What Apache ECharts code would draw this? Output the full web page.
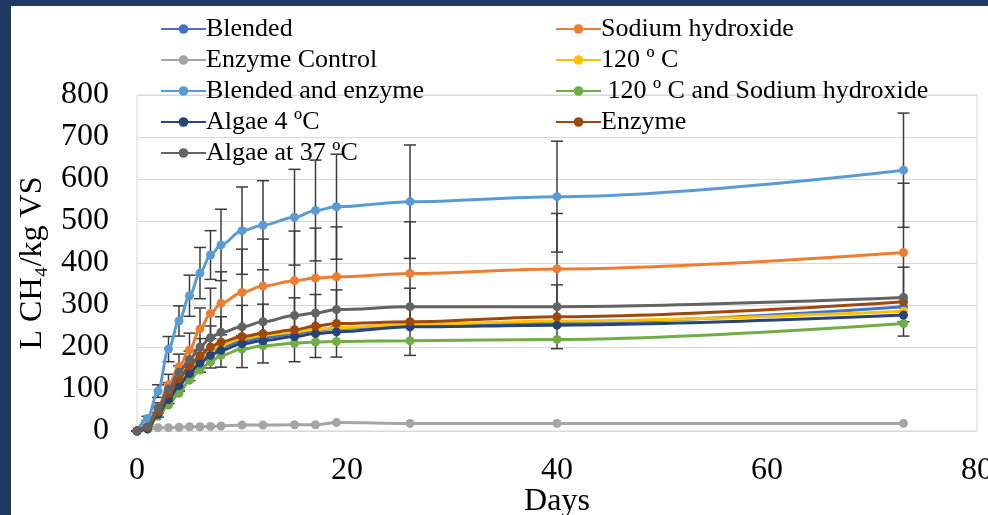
<!DOCTYPE html>
<html>
<head>
<meta charset="utf-8">
<script src="https://cdn.jsdelivr.net/npm/echarts@6/dist/echarts.min.js"></script>
<style>
  html, body { margin:0; padding:0; width:988px; height:515px; background:#203864; overflow:hidden; }
  #chart { position:absolute; left:11px; top:6px; width:977px; height:509px; background:#ffffff; }
</style>
</head>
<body>
<div id="chart"></div>
<script>
const days = [0,1,2,3,4,5,6,7,8,10,12,15,17,19,26,40,73];

const blended            = [0,8,45,85,118,148,170,188,200,215,222,232,240,244,252,258,296];
const sodiumHydroxide    = [0,12,55,110,153,193,243,280,304,330,345,358,364,367,375,386,425];
const enzymeControl      = [0,5,8,8,9,10,10,11,12,14,14,15,15,20,18,18,18];
const c120               = [0,6,38,80,115,145,172,192,205,220,228,236,242,246,254,262,285];
const blendedEnzyme      = [0,30,95,195,262,322,376,419,443,477,490,509,525,534,546,558,621];
const c120NaOH           = [0,5,35,62,90,121,145,165,180,195,203,209,212,213,215,218,256];
const algae4             = [0,5,40,75,108,137,162,180,192,208,215,225,232,236,248,252,276];
const enzyme             = [0,8,45,90,125,155,180,200,212,225,232,241,250,256,260,272,308];
const algae37            = [0,10,55,100,140,170,200,222,235,248,260,275,281,289,296,296,318];

const errBlendedEnzyme   = [0,5,15,30,36,49,61,58,85,104,106,114,120,125,135,132,136];
const errSodiumHydroxide = [0,4,12,25,30,40,50,60,75,103,112,118,119,119,123,132,165];
const errEnzyme          = [0,3,12,25,30,35,40,50,60,74,70,76,75,80,80,76,82];

const names = ['Blended','Sodium hydroxide','Enzyme Control','120 º C','Blended and enzyme',' 120 º C and Sodium hydroxide','Algae 4 ºC','Enzyme','Algae at 37 ºC'];
const values = [blended, sodiumHydroxide, enzymeControl, c120, blendedEnzyme, c120NaOH, algae4, enzyme, algae37];
const colors = ['#4472C4','#ED7D31','#A5A5A5','#FFC000','#5B9BD5','#70AD47','#264478','#9E480E','#636363'];

const serif = '"Liberation Serif", "DejaVu Serif", serif';

function errData(vals, errs) {
  return days.map((d, i) => [d, vals[i] - errs[i], vals[i] + errs[i]]);
}
function renderErr(params, api) {
  const x = api.value(0), lo = api.value(1), hi = api.value(2);
  const pH = api.coord([x, hi]), pL = api.coord([x, lo]);
  const w = 6;
  const st = { stroke: '#3c3c3c', lineWidth: 1.5 };
  return { type: 'group', children: [
    { type: 'line', shape: { x1: pH[0], y1: pH[1], x2: pL[0], y2: pL[1] }, style: st },
    { type: 'line', shape: { x1: pH[0] - w, y1: pH[1], x2: pH[0] + w, y2: pH[1] }, style: st },
    { type: 'line', shape: { x1: pL[0] - w, y1: pL[1], x2: pL[0] + w, y2: pL[1] }, style: st }
  ]};
}

const series = [];
[[blendedEnzyme, errBlendedEnzyme], [sodiumHydroxide, errSodiumHydroxide], [enzyme, errEnzyme]].forEach(([v, e]) => {
  series.push({ type: 'custom', renderItem: renderErr, data: errData(v, e), encode: { x: 0, y: [1, 2] }, z: 1, silent: true });
});
names.forEach((n, i) => {
  series.push({
    name: n, type: 'line', smooth: 0.35, smoothMonotone: 'x',
    data: days.map((d, j) => [d, values[i][j]]),
    symbol: 'circle', symbolSize: 9,
    lineStyle: { width: 3, color: colors[i] },
    itemStyle: { color: colors[i] },
    z: 2 + i
  });
});

const chart = echarts.init(document.getElementById('chart'), null, { renderer: 'canvas' });
chart.setOption({
  animation: false,
  color: colors,
  grid: { left: 126, right: 11, top: 89, bottom: 84, containLabel: false, outerBoundsMode: 'none',
          show: true, borderColor: '#d4d4d4', borderWidth: 1, backgroundColor: 'transparent' },
  legend: [
    { data: [names[0], names[2], names[4], names[6], names[8]], orient: 'vertical', left: 144, top: 5,
      itemWidth: 45, itemHeight: 12, itemGap: 5,
      textStyle: { fontFamily: serif, fontSize: 26, color: '#000', padding: [0,0,0,-5] } },
    { data: [names[1], names[3], names[5], names[7]], orient: 'vertical', left: 539, top: 5,
      itemWidth: 45, itemHeight: 12, itemGap: 5,
      textStyle: { fontFamily: serif, fontSize: 26, color: '#000', padding: [0,0,0,-5] } }
  ],
  xAxis: {
    type: 'value', min: 0, max: 80, interval: 20,
    name: 'Days', nameLocation: 'middle', nameGap: 55, nameMoveOverlap: false,
    nameTextStyle: { fontFamily: serif, fontSize: 32, color: '#000' },
    axisLine: { show: false }, axisTick: { show: false }, splitLine: { show: false },
    axisLabel: { fontFamily: serif, fontSize: 32, color: '#000', margin: 24 }
  },
  yAxis: {
    type: 'value', min: 0, max: 800, interval: 100,
    name: 'L CH₄/kg VS', nameLocation: 'middle', nameGap: 88, nameMoveOverlap: false,
    nameTextStyle: { fontFamily: serif, fontSize: 32, color: '#000' },
    axisLine: { show: false }, axisTick: { show: false },
    splitLine: { lineStyle: { color: '#d9d9d9', width: 1 } },
    axisLabel: { fontFamily: serif, fontSize: 32, color: '#000', margin: 28 }
  },
  series: series
});
</script>
</body>
</html>
